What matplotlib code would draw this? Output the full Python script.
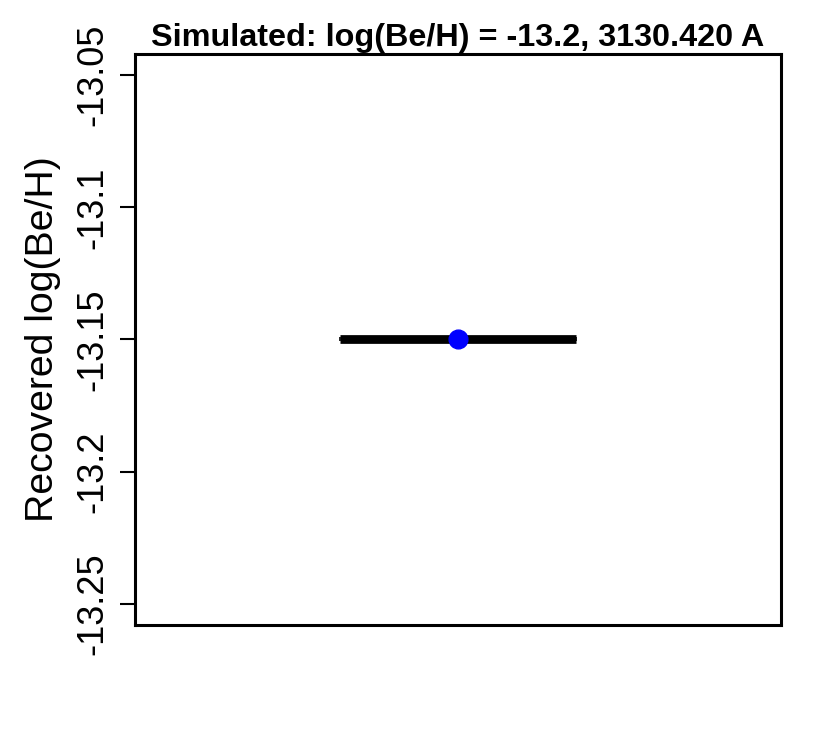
import matplotlib
matplotlib.use('Agg')
import matplotlib.pyplot as plt
import numpy as np

plt.rcParams['font.family'] = ['Liberation Sans', 'DejaVu Sans']

# recovered abundance with its error range
x_pos = [1.0]
recovered = [-13.15]
x_err = [0.158]
y_ticks = [-13.25, -13.2, -13.15, -13.1, -13.05]
y_ticklabels = ['-13.25', '-13.2', '-13.15', '-13.1', '-13.05']

fig = plt.figure(figsize=(8.29, 7.5), dpi=100)
ax = fig.add_axes([0.1628, 0.1667, 0.7793, 0.7613])

ax.errorbar(x_pos, recovered, xerr=x_err, fmt='none', ecolor='black',
            elinewidth=6.3, capsize=1.5, capthick=1.2)
ax.plot(x_pos, recovered, 'o', color='blue', markersize=13.5, zorder=3)

ax.set_xlim(0.568, 1.432)
ax.set_ylim(-13.258, -13.042)
ax.set_xticks([])
ax.set_yticks(y_ticks)
ax.set_yticklabels(y_ticklabels, rotation=90, va='center', fontsize=26)
ax.tick_params(axis='y', length=11, width=1.5, pad=7)
for s in ax.spines.values():
    s.set_linewidth(2.2)

ax.set_ylabel('Recovered log(Be/H)', fontsize=28.3, labelpad=10)
ax.set_title('Simulated: log(Be/H) = -13.2, 3130.420 A', fontsize=23.3,
             fontweight='bold', pad=6)

plt.savefig('out.png', dpi=100)
